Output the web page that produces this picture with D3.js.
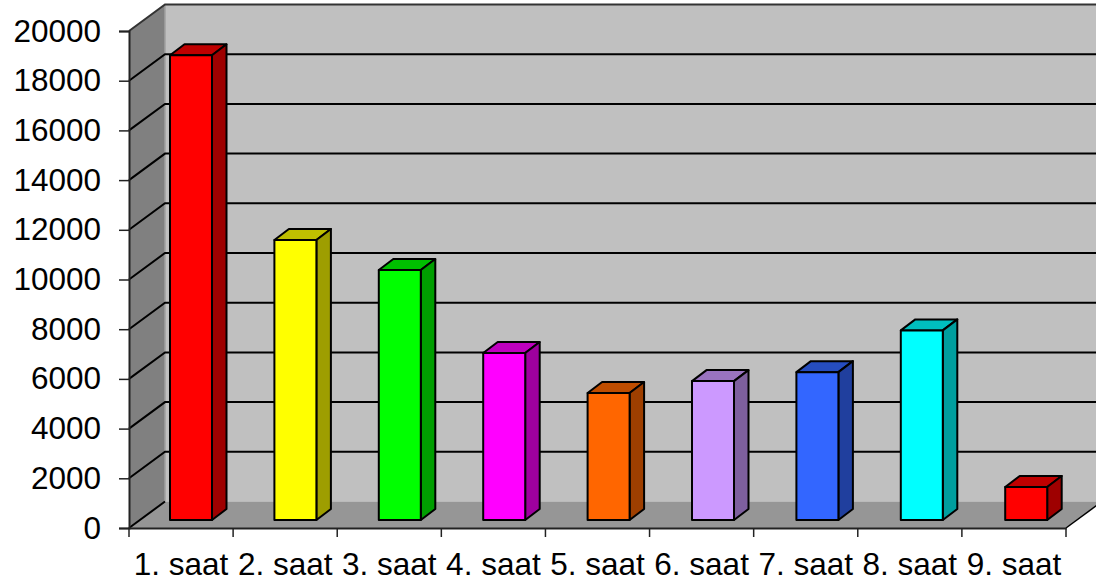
<!DOCTYPE html>
<html><head><meta charset="utf-8">
<script src="https://cdn.jsdelivr.net/npm/d3@7"></script>
<style>html,body{margin:0;padding:0;background:#fff;overflow:hidden}svg{display:block}text{font-family:"Liberation Sans",Arial,sans-serif}</style>
</head><body><svg id="c" width="1096" height="585"></svg>
<script>
const categories=["1. saat","2. saat","3. saat","4. saat","5. saat","6. saat","7. saat","8. saat","9. saat"];
const values=[18700,11270,10060,6720,5110,5590,5950,7630,1330];
const frontColors=["#ff0000","#ffff00","#00ff00","#ff00ff","#ff6600","#cc99ff","#3366ff","#00ffff","#ff0000"];
const yTicks=[0,2000,4000,6000,8000,10000,12000,14000,16000,18000,20000];

const svg=d3.select("#c");
const x0=129,x1=1066,y0=528,y1=31,dx=36,dy=-26.5,bdx=14.5,bdy=-11,bx=41,bw=42,bb=-8;
const x=d3.scaleBand().domain(categories).range([x0,x1]);
const xBar=d3.scaleBand().domain(categories).range([x0,x0+9*104.4]);
const y=d3.scaleLinear().domain([0,20000]).range([y0,y1]);
const poly=(pts,fill,stroke,sw)=>svg.append("polygon").attr("points",pts.map(p=>p.join(",")).join(" ")).attr("fill",fill).attr("stroke",stroke||"none").attr("stroke-width",sw||0).attr("stroke-linejoin","round");

// walls
poly([[x0+dx,y1+dy],[1096,y1+dy],[1096,y0+dy],[x0+dx,y0+dy]],"#c0c0c0");
poly([[x0,y1],[x0+dx,y1+dy],[x0+dx,y0+dy],[x0,y0]],"#808080");
poly([[x0,y0],[x1,y0],[x1+dx,y0+dy],[x0+dx,y0+dy]],"#969696");
svg.append("line").attr("x1",x0+dx).attr("x2",x0+dx).attr("y1",y1+dy).attr("y2",y0+dy).attr("stroke","#a0a0a0").attr("stroke-width",1.5);

// gridlines
yTicks.forEach(t=>{
  const g=svg.append("polyline").attr("fill","none").attr("stroke-width",2);
  if(t===0){
    g.attr("points",[[x0,y(t)],[x0+dx,y(t)+dy]].map(p=>p.join(",")).join(" ")).attr("stroke","#000");
  } else if(t===20000){
    g.attr("points",[[x0,y(t)],[x0+dx,y(t)+dy],[1096,y(t)+dy]].map(p=>p.join(",")).join(" ")).attr("stroke","#333");
  } else {
    g.attr("points",[[x0,y(t)],[x0+dx,y(t)+dy],[1096,y(t)+dy]].map(p=>p.join(",")).join(" ")).attr("stroke","#000");
  }
});
svg.append("line").attr("x1",x1).attr("y1",y0).attr("x2",x1+dx).attr("y2",y0+dy).attr("stroke","#000").attr("stroke-width",1.5);

// bars
categories.forEach((c,i)=>{
  const L=xBar(c)+bx,R=L+bw,base=y0+bb,T=base-(y0-y(values[i]));
  const col=d3.color(frontColors[i]);
  const top=d3.rgb(col.r*0.75,col.g*0.75,col.b*0.75);
  const side=d3.rgb(col.r*0.62,col.g*0.62,col.b*0.62);
  poly([[L,T],[R,T],[R+bdx,T+bdy],[L+bdx,T+bdy]],top.formatHex(),"#000",2);
  poly([[R,T],[R+bdx,T+bdy],[R+bdx,base+bdy],[R,base]],side.formatHex(),"#000",2);
  poly([[L,T],[R,T],[R,base],[L,base]],frontColors[i],"#000",2);
});

// axes
const yAxis=svg.append("g").attr("transform",`translate(${x0},0)`).call(d3.axisLeft(y).tickValues(yTicks).tickSize(10).tickPadding(18).tickFormat(d=>String(d)));
const xAxis=svg.append("g").attr("transform",`translate(0,${y0})`).call(d3.axisBottom(x).tickSize(0).tickPadding(25));
[yAxis,xAxis].forEach(a=>{a.selectAll(".domain").attr("stroke","#222").attr("stroke-width",2);a.selectAll("text").attr("fill","#000").attr("font-size",31.5).attr("font-family",'"Liberation Sans",Arial,sans-serif');a.selectAll("line").attr("stroke","#222").attr("stroke-width",1.5)});
xAxis.selectAll("text").attr("dy","0.71em");
xAxis.selectAll(".xb").data(d3.range(categories.length+1)).enter().append("line").attr("class","xb")
  .attr("x1",i=>i<categories.length?x(categories[i]):x1).attr("x2",i=>i<categories.length?x(categories[i]):x1)
  .attr("y1",0).attr("y2",9).attr("stroke","#222").attr("stroke-width",1.5);
</script></body></html>
